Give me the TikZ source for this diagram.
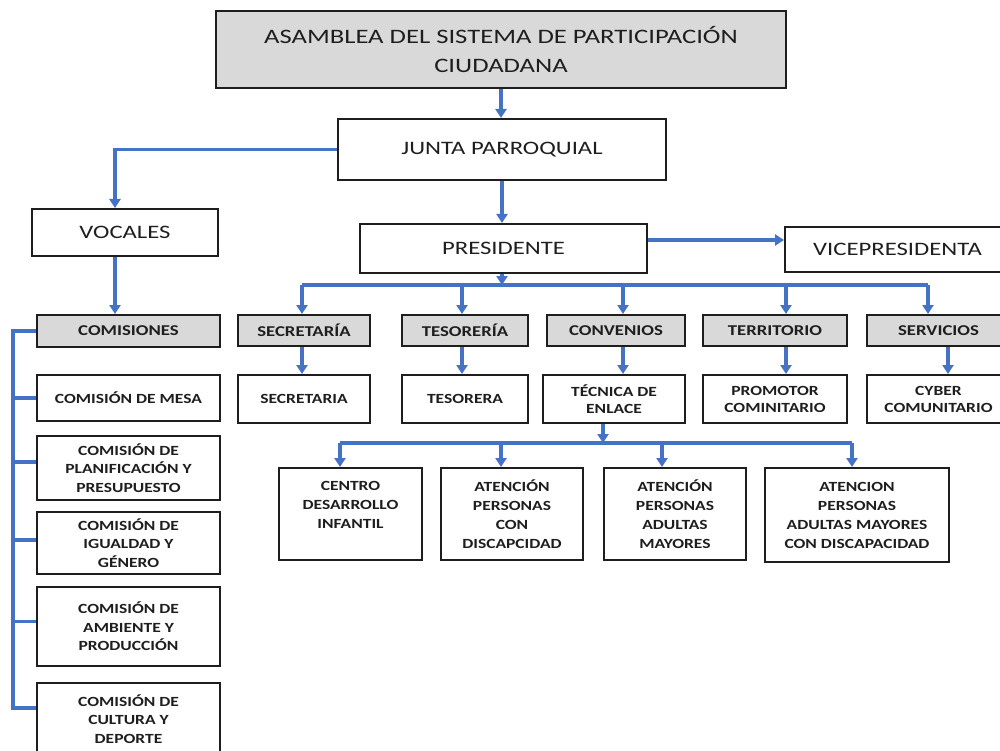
\documentclass[tikz,border=0pt]{standalone}
\usepackage{fontspec}
\setmainfont{Carlito}
\newfontfamily\topfont[FakeStretch=1.3]{Carlito}
\newfontfamily\lowfont[FakeStretch=1.25]{Carlito}
\usetikzlibrary{arrows.meta}
\definecolor{conn}{HTML}{4472C4}
\definecolor{boxgray}{HTML}{D9D9D9}
\definecolor{ink}{HTML}{1E1E1E}
\begin{document}
\begin{tikzpicture}[x=1pt,y=-1pt,
  nbox/.style={draw=ink, line width=2pt, inner sep=0pt, align=center, text=ink},
  gbox/.style={nbox, fill=boxgray},
  toptxt/.style={font=\topfont\fontsize{19}{29}\selectfont},
  titletxt/.style={font=\topfont\fontsize{20.5}{29}\selectfont},
  midtxt/.style={font=\lowfont\bfseries\fontsize{15}{18}\selectfont},
  lowtxt/.style={font=\lowfont\bfseries\fontsize{14}{17}\selectfont},
  coltxt/.style={font=\lowfont\bfseries\fontsize{14}{18.5}\selectfont},
  bottxt/.style={font=\lowfont\bfseries\fontsize{14}{19}\selectfont},
  conline/.style={draw=conn, line width=3.4pt},
  conarr/.style={conline, -{Triangle[width=11pt,length=9pt]}},
]
\useasboundingbox[fill=white] (0,0) rectangle (1000,751);

% top levels
\node[gbox, titletxt, minimum width=570pt, minimum height=77pt] (top) at (501,49.5)
  {ASAMBLEA DEL SISTEMA DE PARTICIPACIÓN\\CIUDADANA};
\node[nbox, toptxt, minimum width=328pt, minimum height=61pt] (junta) at (502,149.5) {JUNTA PARROQUIAL};
\node[nbox, toptxt, minimum width=186pt, minimum height=47pt] (vocales) at (125,232.5) {VOCALES};
\node[nbox, toptxt, minimum width=287pt, minimum height=49pt] (pres) at (503.5,248.5) {PRESIDENTE};
\node[nbox, toptxt, minimum width=225pt, minimum height=45pt] (vice) at (897.5,249.5) {VICEPRESIDENTA};

% level 2
\node[gbox, midtxt, minimum width=132pt, minimum height=31pt] (secr) at (304,330.5) {SECRETARÍA};
\node[gbox, midtxt, minimum width=126pt, minimum height=31pt] (teso) at (465,330.5) {TESORERÍA};
\node[gbox, midtxt, minimum width=138pt, minimum height=31pt] (conv) at (616,330.5) {CONVENIOS};
\node[gbox, midtxt, minimum width=144pt, minimum height=31pt] (terr) at (775,330.5) {TERRITORIO};
\node[gbox, midtxt, minimum width=143pt, minimum height=31pt] (serv) at (938.5,330.5) {SERVICIOS};

% level 3
\node[nbox, lowtxt, minimum width=132pt, minimum height=48pt] (secretaria) at (304,399) {SECRETARIA};
\node[nbox, lowtxt, minimum width=126pt, minimum height=48pt] (tesorera) at (465,399) {TESORERA};
\node[nbox, lowtxt, minimum width=142pt, minimum height=48pt] (tecnica) at (614,399) {TÉCNICA DE\\ENLACE};
\node[nbox, lowtxt, minimum width=144pt, minimum height=48pt] (promotor) at (775,399) {PROMOTOR\\COMINITARIO};
\node[nbox, lowtxt, minimum width=143pt, minimum height=48pt] (cyber) at (938.5,399) {CYBER\\COMUNITARIO};

% level 4
\node[nbox, bottxt, minimum width=143pt, minimum height=92pt] (centro) at (350.5,514) {CENTRO\\DESARROLLO\\INFANTIL\\\mbox{}};
\node[nbox, bottxt, minimum width=142pt, minimum height=92pt] (at1) at (512,514) {ATENCIÓN\\PERSONAS\\CON\\DISCAPCIDAD};
\node[nbox, bottxt, minimum width=142pt, minimum height=92pt] (at2) at (675,514) {ATENCIÓN\\PERSONAS\\ADULTAS\\MAYORES};
\node[nbox, bottxt, minimum width=184pt, minimum height=94pt] (at3) at (857,515) {ATENCION\\PERSONAS\\ADULTAS MAYORES\\CON DISCAPACIDAD};

% left column
\node[gbox, midtxt, minimum width=183pt, minimum height=32pt] (comisiones) at (128.5,331) {COMISIONES};
\node[nbox, coltxt, minimum width=183pt, minimum height=46pt] (mesa) at (128.5,398) {COMISIÓN DE MESA};
\node[nbox, coltxt, minimum width=183pt, minimum height=64pt] (planif) at (128.5,468) {COMISIÓN DE\\PLANIFICACIÓN Y\\PRESUPUESTO};
\node[nbox, coltxt, minimum width=183pt, minimum height=62pt] (igualdad) at (128.5,543) {COMISIÓN DE\\IGUALDAD Y\\GÉNERO};
\node[nbox, coltxt, minimum width=183pt, minimum height=79pt] (ambiente) at (128.5,626.5) {COMISIÓN DE\\AMBIENTE Y\\PRODUCCIÓN};
\node[nbox, coltxt, minimum width=183pt, minimum height=77pt, text depth=5pt] (cultura) at (128.5,721.5) {COMISIÓN DE\\CULTURA Y\\DEPORTE};

% helper coordinates
\coordinate (b1) at (502,285);
\coordinate (d1) at (302,285);
\coordinate (d2) at (462,285);
\coordinate (d3) at (623,285);
\coordinate (d4) at (786,285);
\coordinate (d5) at (928,285);
\coordinate (e5) at (948,285);
\coordinate (b2) at (603,443);
\coordinate (f1) at (340,443);
\coordinate (f2) at (501,443);
\coordinate (f3) at (662,443);
\coordinate (f4) at (852,443);
\coordinate (sp) at (13,0);

% connectors: top part
\draw[conarr] (top.south) -- (top.south |- junta.north);
\draw[conarr] (junta.west) -| ([xshift=-10pt]vocales.north);
\draw[conarr] ([xshift=-10pt]vocales.south) -- ([xshift=-10pt]vocales.south |- comisiones.north);
\draw[conarr] (junta.south) -- (junta.south |- pres.north);
\draw[conarr] ([yshift=8.5pt]pres.east) -- ([yshift=8.5pt]pres.east -| vice.west);

% president bus
\draw[conarr] (pres.south -| b1) -- (b1);
\draw[conline] (d1) -- (d5);
\draw[conarr] (d1) -- (d1 |- secr.north);
\draw[conarr] (d2) -- (d2 |- teso.north);
\draw[conarr] (d3) -- (d3 |- conv.north);
\draw[conarr] (d4) -- (d4 |- terr.north);
\draw[conarr] (d5) -- (d5 |- serv.north);

% level 2 -> level 3
\draw[conarr] (d1 |- secr.south) -- (d1 |- secretaria.north);
\draw[conarr] (d2 |- teso.south) -- (d2 |- tesorera.north);
\draw[conarr] (d3 |- conv.south) -- (d3 |- tecnica.north);
\draw[conarr] (d4 |- terr.south) -- (d4 |- promotor.north);
\draw[conarr] (e5 |- serv.south) -- (e5 |- cyber.north);

% tecnica bus
\draw[conarr] (b2 |- tecnica.south) -- (b2);
\draw[conline] (f1) -- (f4);
\draw[conarr] (f1) -- (f1 |- centro.north);
\draw[conarr] (f2) -- (f2 |- at1.north);
\draw[conarr] (f3) -- (f3 |- at2.north);
\draw[conarr] (f4) -- (f4 |- at3.north);

% comisiones bracket
\draw[conline, line join=miter] (comisiones.west) -- (comisiones.west -| sp)
  -- ([yshift=-26pt]cultura.north west -| sp) -- ([yshift=-26pt]cultura.north west);
\draw[conline] (mesa.west) -- (mesa.west -| sp);
\draw[conline] ([yshift=6pt]planif.west) -- ([yshift=6pt]planif.west -| sp);
\draw[conline] ([yshift=3pt]igualdad.west) -- ([yshift=3pt]igualdad.west -| sp);
\draw[conline] ([yshift=5pt]ambiente.west) -- ([yshift=5pt]ambiente.west -| sp);
\end{tikzpicture}
\end{document}
